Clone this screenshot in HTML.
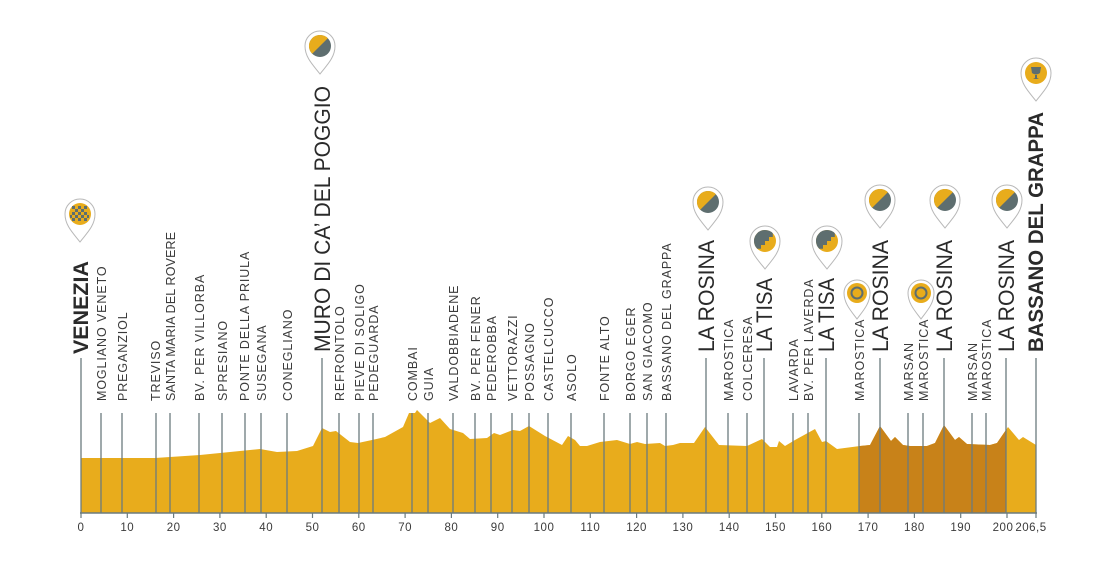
<!DOCTYPE html>
<html><head><meta charset="utf-8"><style>
html,body{margin:0;padding:0;background:#fff;}
svg{display:block;font-family:"Liberation Sans",sans-serif;}
.s{font-size:12.5px;fill:#3b3b3b;letter-spacing:0.9px;}
.b{font-size:22px;fill:#2a2a2a;}
.bb{font-size:21px;fill:#2a2a2a;font-weight:bold;}
.t{font-size:11.5px;fill:#3b3b3b;text-anchor:middle;letter-spacing:0.5px;}
.l{stroke:#6b7b7e;stroke-width:1.3;}
.pin{fill:#fff;stroke:#b8b8b8;stroke-width:1;}
</style></head><body>
<svg width="1111" height="571" viewBox="0 0 1111 571" xmlns="http://www.w3.org/2000/svg">
<defs>
<clipPath id="prof"><path d="M81,513 L81,458 L155,458 L200,455 L260,449 L277,452 L297,451 L313,446 L322,428 L330,432 L336,431 L350,442 L358,443 L372,440 L385,437 L403,427 L409,413 L415,413 L417,410 L430,423 L440,418 L450,429 L463,433 L470,439 L487,438 L494,433 L500,435 L513,430 L520,431 L529,426 L545,436 L562,445 L568,436 L575,440 L580,446 L587,446 L600,442 L617,440 L630,444 L637,442 L645,444 L660,443 L665,446 L673,445 L680,443 L694,443 L705,427 L719,445 L747,446 L762,439 L770,447 L777,447 L779,441 L785,446 L795,440 L815,429 L822,442 L826,441 L837,449 L860,446 L870,445 L880,426 L891,441 L895,437 L903,445 L910,446 L927,446 L935,443 L944,425 L955,440 L959,437 L967,444 L990,445 L997,443 L1008,427 L1019,440 L1023,437 L1036,445 L1036,513 Z"/></clipPath>
</defs>
<path d="M81,513 L81,458 L155,458 L200,455 L260,449 L277,452 L297,451 L313,446 L322,428 L330,432 L336,431 L350,442 L358,443 L372,440 L385,437 L403,427 L409,413 L415,413 L417,410 L430,423 L440,418 L450,429 L463,433 L470,439 L487,438 L494,433 L500,435 L513,430 L520,431 L529,426 L545,436 L562,445 L568,436 L575,440 L580,446 L587,446 L600,442 L617,440 L630,444 L637,442 L645,444 L660,443 L665,446 L673,445 L680,443 L694,443 L705,427 L719,445 L747,446 L762,439 L770,447 L777,447 L779,441 L785,446 L795,440 L815,429 L822,442 L826,441 L837,449 L860,446 L870,445 L880,426 L891,441 L895,437 L903,445 L910,446 L927,446 L935,443 L944,425 L955,440 L959,437 L967,444 L990,445 L997,443 L1008,427 L1019,440 L1023,437 L1036,445 L1036,513 Z" fill="#e8ac1c"/>
<rect x="859" y="400" width="147" height="113" fill="#c88219" clip-path="url(#prof)"/>
<line x1="80" y1="513" x2="1037" y2="513" stroke="#6b7b7e" stroke-width="1.5"/>
<g stroke="#6b7b7e" stroke-width="1.2">
<line x1="81" y1="513" x2="81" y2="518"/><line x1="127.3" y1="513" x2="127.3" y2="518"/><line x1="173.6" y1="513" x2="173.6" y2="518"/><line x1="219.9" y1="513" x2="219.9" y2="518"/><line x1="266.2" y1="513" x2="266.2" y2="518"/><line x1="312.5" y1="513" x2="312.5" y2="518"/><line x1="358.8" y1="513" x2="358.8" y2="518"/><line x1="405.1" y1="513" x2="405.1" y2="518"/><line x1="451.4" y1="513" x2="451.4" y2="518"/><line x1="497.7" y1="513" x2="497.7" y2="518"/><line x1="544" y1="513" x2="544" y2="518"/><line x1="590.3" y1="513" x2="590.3" y2="518"/><line x1="636.6" y1="513" x2="636.6" y2="518"/><line x1="682.9" y1="513" x2="682.9" y2="518"/><line x1="729.2" y1="513" x2="729.2" y2="518"/><line x1="775.5" y1="513" x2="775.5" y2="518"/><line x1="821.8" y1="513" x2="821.8" y2="518"/><line x1="868.1" y1="513" x2="868.1" y2="518"/><line x1="914.4" y1="513" x2="914.4" y2="518"/><line x1="960.7" y1="513" x2="960.7" y2="518"/><line x1="1007" y1="513" x2="1007" y2="518"/><line x1="1036" y1="513" x2="1036" y2="518"/>
</g>
<g class="t">
<text x="81" y="531">0</text><text x="127.3" y="531">10</text><text x="173.6" y="531">20</text><text x="219.9" y="531">30</text><text x="266.2" y="531">40</text><text x="312.5" y="531">50</text><text x="358.8" y="531">60</text><text x="405.1" y="531">70</text><text x="451.4" y="531">80</text><text x="497.7" y="531">90</text><text x="544" y="531">100</text><text x="590.3" y="531">110</text><text x="636.6" y="531">120</text><text x="682.9" y="531">130</text><text x="729.2" y="531">140</text><text x="775.5" y="531">150</text><text x="821.8" y="531">160</text><text x="868.1" y="531">170</text><text x="914.4" y="531">180</text><text x="960.7" y="531">190</text><text x="1003" y="531">200</text><text x="1031" y="531">206,5</text>
</g>
<g class="l">
<line x1="81" y1="358" x2="81" y2="513"/><line x1="322" y1="358" x2="322" y2="513"/><line x1="706" y1="358" x2="706" y2="513"/><line x1="764" y1="358" x2="764" y2="513"/><line x1="826" y1="358" x2="826" y2="513"/><line x1="880" y1="358" x2="880" y2="513"/><line x1="944" y1="358" x2="944" y2="513"/><line x1="1006" y1="358" x2="1006" y2="513"/><line x1="1036" y1="358" x2="1036" y2="513"/>
<line x1="101" y1="413" x2="101" y2="513"/><line x1="122" y1="413" x2="122" y2="513"/><line x1="156" y1="413" x2="156" y2="513"/><line x1="170" y1="413" x2="170" y2="513"/><line x1="199" y1="413" x2="199" y2="513"/><line x1="222" y1="413" x2="222" y2="513"/><line x1="245" y1="413" x2="245" y2="513"/><line x1="261" y1="413" x2="261" y2="513"/><line x1="287" y1="413" x2="287" y2="513"/><line x1="339" y1="413" x2="339" y2="513"/><line x1="359" y1="413" x2="359" y2="513"/><line x1="373" y1="413" x2="373" y2="513"/><line x1="412" y1="413" x2="412" y2="513"/><line x1="428" y1="413" x2="428" y2="513"/><line x1="453" y1="413" x2="453" y2="513"/><line x1="475" y1="413" x2="475" y2="513"/><line x1="491" y1="413" x2="491" y2="513"/><line x1="512" y1="413" x2="512" y2="513"/><line x1="529" y1="413" x2="529" y2="513"/><line x1="548" y1="413" x2="548" y2="513"/><line x1="571" y1="413" x2="571" y2="513"/><line x1="604" y1="413" x2="604" y2="513"/><line x1="630" y1="413" x2="630" y2="513"/><line x1="647" y1="413" x2="647" y2="513"/><line x1="666" y1="413" x2="666" y2="513"/><line x1="728" y1="413" x2="728" y2="513"/><line x1="747" y1="413" x2="747" y2="513"/><line x1="793" y1="413" x2="793" y2="513"/><line x1="808" y1="413" x2="808" y2="513"/><line x1="859" y1="413" x2="859" y2="513"/><line x1="908" y1="413" x2="908" y2="513"/><line x1="923" y1="413" x2="923" y2="513"/><line x1="972" y1="413" x2="972" y2="513"/><line x1="986" y1="413" x2="986" y2="513"/>
</g>
<g class="s">
<text transform="translate(106,401) rotate(-90)">MOGLIANO VENETO</text>
<text transform="translate(127,401) rotate(-90)">PREGANZIOL</text>
<text transform="translate(160,401) rotate(-90)">TREVISO</text>
<text transform="translate(175,401) rotate(-90)" textLength="170">SANTA MARIA DEL ROVERE</text>
<text transform="translate(204,401) rotate(-90)">BV. PER VILLORBA</text>
<text transform="translate(227,401) rotate(-90)">SPRESIANO</text>
<text transform="translate(249,401) rotate(-90)">PONTE DELLA PRIULA</text>
<text transform="translate(266,401) rotate(-90)">SUSEGANA</text>
<text transform="translate(292,401) rotate(-90)">CONEGLIANO</text>
<text transform="translate(344,401) rotate(-90)">REFRONTOLO</text>
<text transform="translate(364,401) rotate(-90)">PIEVE DI SOLIGO</text>
<text transform="translate(378,401) rotate(-90)">PEDEGUARDA</text>
<text transform="translate(417,401) rotate(-90)">COMBAI</text>
<text transform="translate(433,401) rotate(-90)">GUIA</text>
<text transform="translate(458,401) rotate(-90)">VALDOBBIADENE</text>
<text transform="translate(480,401) rotate(-90)">BV. PER FENER</text>
<text transform="translate(496,401) rotate(-90)">PEDEROBBA</text>
<text transform="translate(517,401) rotate(-90)">VETTORAZZI</text>
<text transform="translate(534,401) rotate(-90)">POSSAGNO</text>
<text transform="translate(553,401) rotate(-90)">CASTELCUCCO</text>
<text transform="translate(576,401) rotate(-90)">ASOLO</text>
<text transform="translate(609,401) rotate(-90)">FONTE ALTO</text>
<text transform="translate(635,401) rotate(-90)">BORGO EGER</text>
<text transform="translate(652,401) rotate(-90)">SAN GIACOMO</text>
<text transform="translate(671,401) rotate(-90)">BASSANO DEL GRAPPA</text>
<text transform="translate(733,401) rotate(-90)">MAROSTICA</text>
<text transform="translate(752,401) rotate(-90)">COLCERESA</text>
<text transform="translate(798,401) rotate(-90)">LAVARDA</text>
<text transform="translate(813,401) rotate(-90)">BV. PER LAVERDA</text>
<text transform="translate(864,401) rotate(-90)">MAROSTICA</text>
<text transform="translate(913,401) rotate(-90)">MARSAN</text>
<text transform="translate(928,401) rotate(-90)">MAROSTICA</text>
<text transform="translate(977,401) rotate(-90)">MARSAN</text>
<text transform="translate(991,401) rotate(-90)">MAROSTICA</text>
</g>
<g class="b">
<text transform="translate(330,352) rotate(-90)" textLength="266" lengthAdjust="spacingAndGlyphs">MURO DI CA’ DEL POGGIO</text>
<text transform="translate(714,352) rotate(-90)" textLength="112" lengthAdjust="spacingAndGlyphs">LA ROSINA</text>
<text transform="translate(772,352) rotate(-90)" textLength="74" lengthAdjust="spacingAndGlyphs">LA TISA</text>
<text transform="translate(834,352) rotate(-90)" textLength="74" lengthAdjust="spacingAndGlyphs">LA TISA</text>
<text transform="translate(888,352) rotate(-90)" textLength="112" lengthAdjust="spacingAndGlyphs">LA ROSINA</text>
<text transform="translate(952,352) rotate(-90)" textLength="112" lengthAdjust="spacingAndGlyphs">LA ROSINA</text>
<text transform="translate(1014,352) rotate(-90)" textLength="112" lengthAdjust="spacingAndGlyphs">LA ROSINA</text>
</g>
<g class="bb">
<text transform="translate(88,354) rotate(-90)" textLength="93" lengthAdjust="spacingAndGlyphs">VENEZIA</text>
<text transform="translate(1043,352) rotate(-90)" textLength="240" lengthAdjust="spacingAndGlyphs">BASSANO DEL GRAPPA</text>
</g>
<defs>
<path id="pinshape" d="M0,28 C-6,20 -15,12 -15,0 A15,15 0 1 1 15,0 C15,12 6,20 0,28 Z"/>
<g id="split"><use href="#pinshape" class="pin"/><circle r="11" fill="#5e6e6f"/><path d="M-7.8,7.8 A11,11 0 0 1 7.8,-7.8 Z" fill="#e8ac1c"/></g>
<g id="stair"><use href="#pinshape" class="pin"/><circle r="11" fill="#e8ac1c"/><path d="M-7.8,7.8 A11,11 0 0 1 7.8,-7.8 L7.8,-4 L4,-4 L4,0 L0,0 L0,4 L-4,4 L-4,7.8 Z" fill="#5e6e6f"/></g>
<g id="loop"><path d="M0,26 C-5,19 -13,11 -13,0 A13,13 0 1 1 13,0 C13,11 5,19 0,26 Z" class="pin"/><circle r="10" fill="#e8ac1c"/><circle r="5.5" fill="none" stroke="#5e6e6f" stroke-width="2"/></g>
</defs>
<g transform="translate(80,214)"><use href="#pinshape" class="pin"/><circle r="11" fill="#e8ac1c"/>
<g fill="#5e6e6f"><rect x="-8" y="-8" width="3" height="3"/><rect x="-2" y="-8" width="3" height="3"/><rect x="4" y="-8" width="3" height="3"/><rect x="-5" y="-5" width="3" height="3"/><rect x="1" y="-5" width="3" height="3"/><rect x="-8" y="-2" width="3" height="3"/><rect x="-2" y="-2" width="3" height="3"/><rect x="4" y="-2" width="3" height="3"/><rect x="-5" y="1" width="3" height="3"/><rect x="1" y="1" width="3" height="3"/><rect x="7" y="1" width="2" height="3"/><rect x="-8" y="4" width="3" height="3"/><rect x="-2" y="4" width="3" height="3"/><rect x="4" y="4" width="3" height="3"/><rect x="-10" y="1" width="2" height="3"/></g></g>
<use href="#split" transform="translate(320,46)"/>
<use href="#split" transform="translate(708,202)"/>
<use href="#split" transform="translate(880,200)"/>
<use href="#split" transform="translate(945,200)"/>
<use href="#split" transform="translate(1007,200)"/>
<use href="#stair" transform="translate(765,241)"/>
<use href="#stair" transform="translate(827,241)"/>
<use href="#loop" transform="translate(857,293)"/>
<use href="#loop" transform="translate(921,293)"/>
<g transform="translate(1036,73)"><use href="#pinshape" class="pin"/><circle r="11" fill="#e8ac1c"/><path d="M-5,-6 L5,-6 L4,0 Q0,3 -4,0 Z M-1,2 L1,2 L1,5 L3,6 L-3,6 L-1,5 Z" fill="#5e6e6f"/></g>
</svg>
</body></html>
